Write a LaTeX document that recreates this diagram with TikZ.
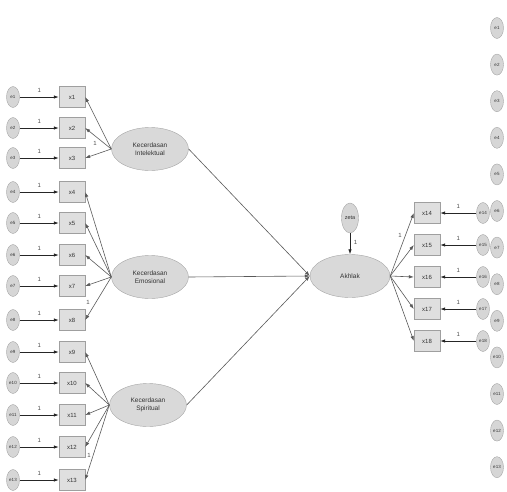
\documentclass[tikz,border=0pt]{standalone}
\usepackage{fontspec}
\setmainfont{Liberation Sans}
\usetikzlibrary{shapes.geometric,arrows.meta}
\begin{document}
\begin{tikzpicture}[x=1pt,y=-1pt,
  err/.style={ellipse,draw=gray!70,fill=gray!32,minimum width=13pt,minimum height=21pt,inner sep=0pt,font=\fontsize{4.5}{5}\selectfont,text=black!80},
  obs/.style={rectangle,draw=gray!75,fill=gray!25,minimum width=26pt,minimum height=21pt,inner sep=0pt,font=\fontsize{6}{7}\selectfont,text=black!80},
  lat/.style={ellipse,draw=gray!70,fill=gray!30,minimum width=77pt,minimum height=43pt,inner sep=0pt,align=center,font=\fontsize{6.5}{8}\selectfont,text=black!80},
  arr/.style={-{Latex[length=5pt,width=3.5pt]},draw=black!85,line width=0.8pt},
  ld/.style={-{Latex[length=5pt,width=3.5pt]},draw=black!65,line width=0.6pt},
  one/.style={font=\fontsize{6}{7}\selectfont,text=black!70,inner sep=0.5pt}]
\useasboundingbox (0,0) rectangle (507,491);
% latent variables
\node[lat] (KI) at (150,149) {Kecerdasan\\Intelektual};
\node[lat] (KE) at (150,277) {Kecerdasan\\Emosional};
\node[lat] (KS) at (148,405) {Kecerdasan\\Spiritual};
\node[lat,minimum width=80pt] (AK) at (350,276) {Akhlak};
\node[err,minimum width=17pt,minimum height=30pt,font=\fontsize{5.5}{6}\selectfont] (zeta) at (350,218) {zeta};
% left indicators
\foreach \i/\y in {1/97,2/128,3/158,4/192,5/223,6/255,7/286,8/320,9/352,10/383,11/415,12/447,13/480}{
  \node[err] (e\i) at (13,\y) {e\i};
  \node[obs] (x\i) at (72,\y) {x\i};
  \draw[arr] (e\i) -- (x\i) node[midway,above=4pt,one]{1};
}
\foreach \i in {1,2,3}{\draw[ld] (KI.west) -- (x\i.east);}
\foreach \i in {4,5,6,7,8}{\draw[ld] (KE.west) -- (x\i.east);}
\foreach \i in {9,10,11,12,13}{\draw[ld] (KS.west) -- (x\i.east);}
\node[one] (l1) at (95,143) {1};
\node[one] (l2) at (88,302) {1};
\node[one] (l3) at (89,455) {1};
% structural paths
\draw[ld] (KI.east) -- (AK.west);
\draw[ld] (KE.east) -- (AK.west);
\draw[ld] (KS.east) -- (AK.west);
\draw[arr] (zeta) -- (AK) node[pos=0.45,right=3pt,one]{1};
% right indicators
\foreach \i/\y in {14/213,15/245,16/277,17/309,18/341}{
  \node[obs] (x\i) at (427,\y) {x\i};
  \node[err] (e\i) at (483,\y) {e\i};
  \draw[arr] (e\i) -- (x\i) node[midway,above=4pt,one]{1};
  \draw[ld] (AK.east) -- (x\i.west);
}
\node[one] (l4) at (400,235) {1};
% stray column of error terms
\foreach \i in {1,...,13}{
  \node[err] (s\i) at (497,{28+36.6*(\i-1)}) {e\i};
}
\end{tikzpicture}
\end{document}
